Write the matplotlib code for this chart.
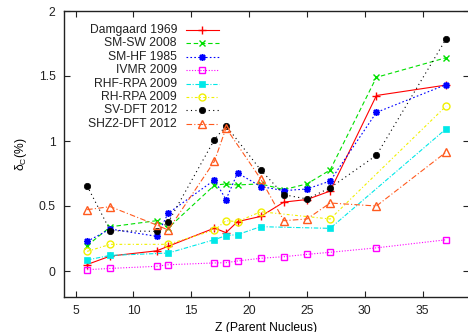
import matplotlib
matplotlib.use("Agg")
import matplotlib.pyplot as plt
import numpy as np

plt.rcParams['font.family'] = ['Liberation Sans', 'DejaVu Sans']
plt.rcParams['mathtext.fontset'] = 'custom'
plt.rcParams['mathtext.rm'] = 'Liberation Sans'
plt.rcParams['mathtext.it'] = 'Liberation Sans'

# ---- data ----
z_dam = [6, 8, 12, 13, 17, 18, 19, 21, 23, 25, 27, 31, 37]
v_dam = [0.05, 0.115, 0.155, 0.19, 0.33, 0.295, 0.38, 0.42, 0.53, 0.55, 0.615, 1.35, 1.43]

z_smsw = [6, 8, 12, 13, 17, 18, 19, 21, 23, 25, 27, 31, 37]
v_smsw = [0.195, 0.34, 0.387, 0.33, 0.66, 0.67, 0.662, 0.67, 0.626, 0.67, 0.777, 1.49, 1.64]

z_smhf = [6, 8, 12, 13, 17, 18, 19, 21, 23, 25, 27, 31, 37]
v_smhf = [0.228, 0.323, 0.267, 0.444, 0.70, 0.55, 0.754, 0.65, 0.618, 0.631, 0.692, 1.22, 1.433]

z_ivmr = [6, 8, 12, 13, 17, 18, 19, 21, 23, 25, 27, 31, 37]
v_ivmr = [0.01, 0.02, 0.036, 0.048, 0.062, 0.064, 0.077, 0.098, 0.11, 0.128, 0.144, 0.178, 0.24]

z_rhf = [6, 8, 13, 17, 18, 19, 21, 27, 37]
v_rhf = [0.085, 0.12, 0.138, 0.241, 0.272, 0.28, 0.341, 0.328, 1.092]

z_rh = [6, 8, 13, 17, 18, 19, 21, 27, 37]
v_rh = [0.151, 0.205, 0.205, 0.315, 0.387, 0.38, 0.456, 0.40, 1.267]

z_sv = [6, 8, 12, 13, 17, 18, 21, 23, 25, 27, 31, 37]
v_sv = [0.654, 0.31, 0.305, 0.374, 1.01, 1.118, 0.777, 0.587, 0.554, 0.64, 0.89, 1.782]

z_shz = [6, 8, 12, 13, 17, 18, 21, 23, 25, 27, 31, 37]
v_shz = [0.472, 0.495, 0.354, 0.315, 0.844, 1.10, 0.708, 0.387, 0.40, 0.523, 0.50, 0.913]

labels = ["Damgaard 1969", "SM-SW 2008", "SM-HF 1985", "IVMR 2009",
          "RHF-RPA 2009", "RH-RPA 2009", "SV-DFT 2012", "SHZ2-DFT 2012"]

x_ticks = [5, 10, 15, 20, 25, 30, 35]
y_ticks = [0, 0.5, 1, 1.5, 2]
y_ticklabels = ["0", "0.5", "1", "1.5", "2"]

series = [
    (z_dam, v_dam, dict(color='#ff0000', ls='-', marker='+', ms=6, mew=1.0, mfc='none')),
    (z_smsw, v_smsw, dict(color='#00e000', ls=(0, (4, 2.5)), marker='x', ms=5, mew=1.0, mfc='none')),
    (z_smhf, v_smhf, dict(color='#0000ff', ls=(0, (1.5, 2)), marker=(8, 2, 0), ms=5, mew=1.1, mfc='none')),
    (z_ivmr, v_ivmr, dict(color='#ff00ff', ls=(0, (1, 1.5)), marker='s', ms=4.8, mew=1.0, mfc='none')),
    (z_rhf, v_rhf, dict(color='#00e8e8', ls=(0, (4, 1.5, 1, 1.5)), marker='s', ms=4.8, mew=0.5, mfc='#00e8e8')),
    (z_rh, v_rh, dict(color='#f0f000', ls=(0, (2.5, 2, 1, 2)), marker='o', ms=5, mew=1.0, mfc='none')),
    (z_sv, v_sv, dict(color='#000000', ls=(0, (1, 3)), marker='o', ms=4.6, mew=0.5, mfc='#000000')),
    (z_shz, v_shz, dict(color='#ff5a1e', ls=(0, (5, 2, 1, 2)), marker='^', ms=5.5, mew=1.0, mfc='none')),
]

W, H = 468, 332
fig = plt.figure(figsize=(W / 100, H / 100), dpi=100)
L, R, T, B = 64, 469, 11, 297
ax = fig.add_axes([L / W, 1 - B / H, (R - L) / W, (B - T) / H])

for (zx, vy, st) in series:
    ax.plot(zx, vy, lw=0.8, **st)

ax.set_xlim(4, 39)
ax.set_ylim(-0.2, 2)
ax.set_xticks(x_ticks)
ax.set_xticklabels([str(t) for t in x_ticks])
ax.set_yticks(y_ticks)
ax.set_yticklabels(y_ticklabels)
ax.tick_params(direction='in', length=4, width=0.8, top=True, right=True,
               labelsize=8.7, colors='#222222')
ax.tick_params(axis='y', pad=6)
ax.tick_params(axis='x', pad=6)
for s in ax.spines.values():
    s.set_linewidth(1.0)
    s.set_color('#222222')

ax.set_xlabel("Z (Parent Nucleus)", fontsize=8.7, labelpad=3)
ax.set_ylabel(r"$\delta_{\rm C}$(%)", fontsize=8.7, labelpad=7)

# manual gnuplot-style key
def ax_x(px):
    return (px - L) / (R - L)

def ax_y(py):
    return (B - py) / (B - T)

key_y = [30, 43.4, 56.8, 70.2, 83.6, 97, 110.4, 123.8]
for lab, (zx, vy, st), py in zip(labels, series, key_y):
    ax.text(ax_x(177), ax_y(py), lab, transform=ax.transAxes, ha='right', va='center',
            fontsize=8.7, color='#222222')
    ax.plot([ax_x(186), ax_x(219)], [ax_y(py), ax_y(py)], transform=ax.transAxes,
            lw=0.8, color=st['color'], ls=st['ls'], clip_on=False)
    ax.plot([ax_x(202)], [ax_y(py)], transform=ax.transAxes, ls='none',
            color=st['color'], marker=st['marker'], ms=st['ms'], mew=st['mew'],
            mfc=st['mfc'], clip_on=False)

fig.savefig("out.png", dpi=100)
